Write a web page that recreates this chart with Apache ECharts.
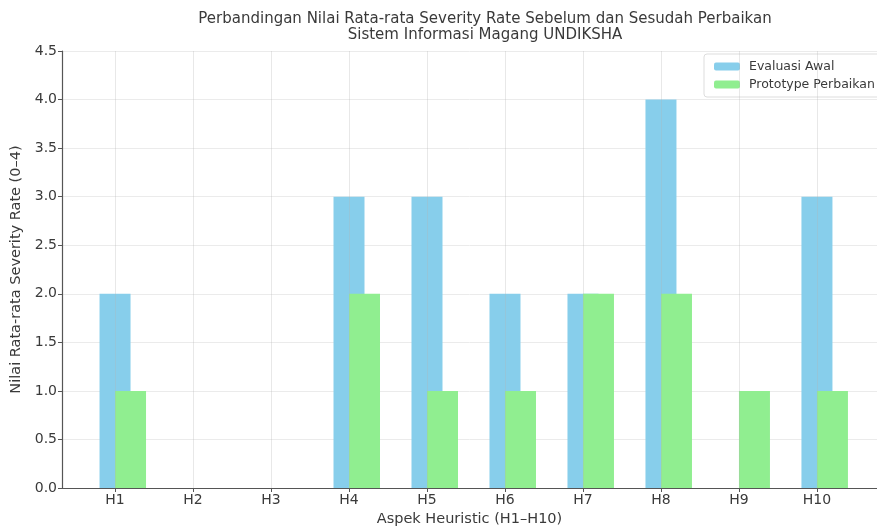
<!DOCTYPE html>
<html>
<head>
<meta charset="utf-8">
<script src="https://cdn.jsdelivr.net/npm/echarts@6/dist/echarts.min.js"></script>
<style>html,body{margin:0;padding:0;background:#fff;}#c{width:877px;height:527px;}</style>
</head>
<body>
<div id="c"></div>
<script>
const categories = ['H1','H2','H3','H4','H5','H6','H7','H8','H9','H10'];
const evaluasiAwal = [2, 0, 0, 3, 3, 2, 2, 4, 0, 3];
const prototypePerbaikan = [1, 0, 0, 2, 1, 1, 2, 2, 1, 1];
const yTicks = [0, 0.5, 1, 1.5, 2, 2.5, 3, 3.5, 4, 4.5];

const positions = categories.map((c, i) => i + 1);
const FONT = 'DejaVu Sans';
const chart = echarts.init(document.getElementById('c'), null, {renderer: 'canvas'});
chart.setOption({
  animation: false,
  backgroundColor: '#fff',
  textStyle: {fontFamily: FONT},
  title: {
    text: 'Perbandingan Nilai Rata-rata Severity Rate Sebelum dan Sesudah Perbaikan\nSistem Informasi Magang UNDIKSHA',
    left: 480, top: 6, textAlign: 'center',
    textStyle: {fontFamily: FONT, fontSize: 15, fontWeight: 'normal', color: '#3a3a3a', lineHeight: 16}
  },
  legend: {
    data: ['Evaluasi Awal', 'Prototype Perbaikan'],
    orient: 'vertical', left: 704, top: 54,
    itemWidth: 26, itemHeight: 8, itemGap: 5,
    padding: [6, 10, 6, 10],
    borderColor: '#ddd', borderWidth: 1, borderRadius: 3,
    backgroundColor: 'rgba(255,255,255,0.8)',
    textStyle: {fontFamily: FONT, fontSize: 12.5, color: '#3a3a3a', padding: [0, 0, 0, 4]}
  },
  grid: {left: 62, right: 0, top: 51, bottom: 39, containLabel: false, outerBoundsMode: 'none'},
  xAxis: {
    type: 'value', min: 0.32, max: 10.77,
    name: 'Aspek Heuristic (H1–H10)', nameLocation: 'middle', nameGap: 24,
    nameTextStyle: {fontFamily: FONT, fontSize: 14.5, color: '#3a3a3a'},
    axisLine: {show: true, lineStyle: {color: '#555', width: 1.2}},
    axisTick: {show: true, customValues: positions, length: 4, lineStyle: {color: '#555'}},
    axisLabel: {customValues: positions, formatter: v => categories[Math.round(v) - 1] || '', fontFamily: FONT, fontSize: 14, color: '#3a3a3a', margin: 5},
    splitLine: {show: false}
  },
  yAxis: {
    type: 'value', min: 0, max: 4.5, interval: 0.5,
    name: 'Nilai Rata-rata Severity Rate (0–4)', nameLocation: 'middle', nameGap: 36,
    nameTextStyle: {fontFamily: FONT, fontSize: 14.5, color: '#3a3a3a'},
    axisLine: {show: true, lineStyle: {color: '#555', width: 1.2}},
    axisTick: {show: true, length: 4, lineStyle: {color: '#555'}},
    axisLabel: {formatter: v => v.toFixed(1), fontFamily: FONT, fontSize: 14, color: '#3a3a3a', margin: 5},
    splitLine: {show: true, lineStyle: {color: '#ebebeb', width: 1}}
  },
  series: [
    {
      name: '_spacer', type: 'bar', barWidth: 31, barGap: '-50%',
      data: positions.map(p => [p, null]), silent: true
    },
    {
      name: 'Evaluasi Awal', type: 'bar', barWidth: 31, barGap: '-50%',
      itemStyle: {color: '#87CEEB'},
      data: positions.map((p, i) => [p, evaluasiAwal[i]]),
      markLine: {
        silent: true, symbol: 'none', label: {show: false},
        lineStyle: {color: 'rgba(180,180,180,0.3)', width: 1, type: 'solid'},
        data: positions.map(p => ({xAxis: p}))
      }
    },
    {
      name: 'Prototype Perbaikan', type: 'bar', barWidth: 31, barGap: '-50%',
      itemStyle: {color: '#90EE90'},
      data: positions.map((p, i) => [p, prototypePerbaikan[i]])
    }
  ]
});
</script>
</body>
</html>
